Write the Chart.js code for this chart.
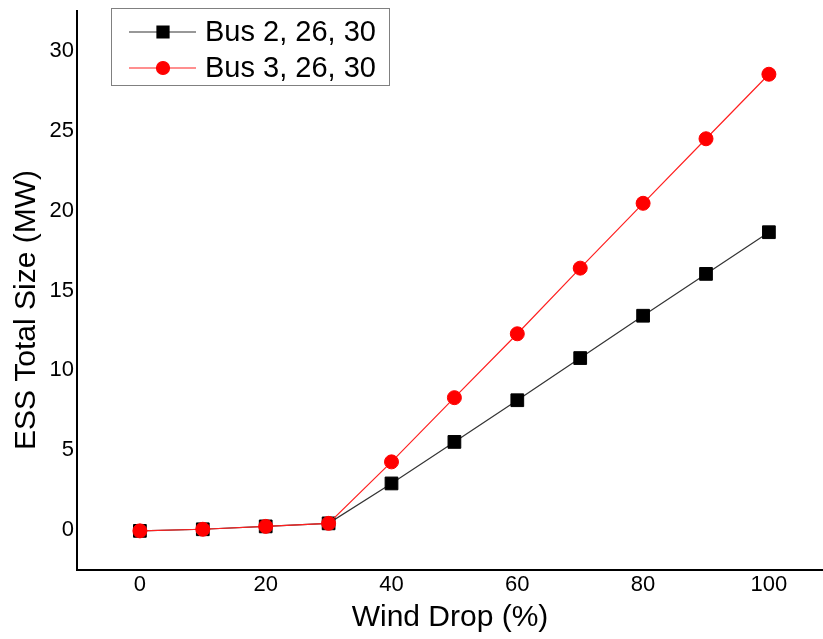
<!DOCTYPE html>
<html>
<head>
<meta charset="utf-8">
<title>ESS Total Size vs Wind Drop</title>
<script src="https://cdn.jsdelivr.net/npm/chart.js@4.4.1/dist/chart.umd.min.js"></script>
<style>
  html, body { margin: 0; padding: 0; background: #fff; }
  #wrap { width: 823px; height: 639px; position: relative; }
</style>
</head>
<body>
<div id="wrap"><canvas id="essChart"></canvas></div>
<script>
// Wind drop levels (%) and ESS total size (MW) for the two bus sets
var windDrop = [0, 10, 20, 30, 40, 50, 60, 70, 80, 90, 100];
var bus2Size = [-0.05, 0.05, 0.23, 0.42, 2.92, 5.52, 8.13, 10.77, 13.42, 16.04, 18.65];
var bus3Size = [-0.05, 0.05, 0.23, 0.42, 4.27, 8.29, 12.29, 16.40, 20.46, 24.50, 28.54];

var seriesNames = ['Bus 2, 26, 30', 'Bus 3, 26, 30'];
var xTicks = [0, 20, 40, 60, 80, 100];
var yTicks = [0, 5, 10, 15, 20, 25, 30];
var yTitle = 'ESS Total Size (MW)';

var FONT = "Arial, 'Liberation Sans', sans-serif";

function toPoints(ys) {
  return windDrop.map(function (x, i) { return { x: x, y: ys[i] }; });
}

// Rotated y-axis title, sitting a little below the middle of the axis
var yAxisTitle = {
  id: 'yAxisTitle',
  afterDraw: function (chart) {
    var ctx = chart.ctx;
    ctx.save();
    ctx.translate(27, 310);
    ctx.rotate(-Math.PI / 2);
    ctx.fillStyle = '#000';
    ctx.font = '30px ' + FONT;
    ctx.textAlign = 'center';
    ctx.textBaseline = 'middle';
    ctx.fillText(yTitle, 0, 0);
    ctx.restore();
  }
};

// Boxed legend in the upper-left of the plot: line sample + marker + label
var boxLegend = {
  id: 'boxLegend',
  afterDraw: function (chart) {
    var ctx = chart.ctx;
    var bx = 111, by = 8, bw = 278, bh = 77;
    ctx.save();
    ctx.fillStyle = '#fff';
    ctx.fillRect(bx, by, bw, bh);
    ctx.strokeStyle = '#808080';
    ctx.lineWidth = 1;
    ctx.strokeRect(bx + 0.5, by + 0.5, bw, bh);

    var rows = [32, 68];
    chart.data.datasets.forEach(function (ds, i) {
      var y = rows[i];
      ctx.strokeStyle = ds.borderColor;
      ctx.lineWidth = ds.borderWidth;
      ctx.beginPath();
      ctx.moveTo(129, y);
      ctx.lineTo(196, y);
      ctx.stroke();
      ctx.fillStyle = ds.pointBackgroundColor;
      ctx.strokeStyle = ds.pointBorderColor;
      Chart.helpers.drawPoint(ctx, {
        pointStyle: ds.pointStyle,
        radius: ds.pointRadius - 0.5,
        borderWidth: 1,
        rotation: 0
      }, 163, y);
      ctx.fillStyle = '#000';
      ctx.font = '29px ' + FONT;
      ctx.textBaseline = 'middle';
      ctx.textAlign = 'left';
      ctx.fillText(ds.label, 205, y + 1);
    });
    ctx.restore();
  }
};

new Chart(document.getElementById('essChart'), {
  type: 'line',
  data: {
    datasets: [
      {
        label: seriesNames[0],
        data: toPoints(bus2Size),
        borderColor: '#333333',
        borderWidth: 1.2,
        pointStyle: 'rect',
        pointRadius: 9,
        pointBackgroundColor: '#000',
        pointBorderColor: '#000',
        pointBorderWidth: 1,
        order: 1
      },
      {
        label: seriesNames[1],
        data: toPoints(bus3Size),
        borderColor: '#ff2020',
        borderWidth: 1.2,
        pointStyle: 'circle',
        pointRadius: 7,
        pointBackgroundColor: '#ff0000',
        pointBorderColor: '#ff0000',
        pointBorderWidth: 1,
        order: 0
      }
    ]
  },
  options: {
    responsive: true,
    maintainAspectRatio: false,
    animation: false,
    layout: {
      autoPadding: false,
      padding: { top: 11, right: 0, bottom: 1, left: 0 }
    },
    plugins: {
      legend: { display: false },
      tooltip: { enabled: false }
    },
    scales: {
      x: {
        type: 'linear',
        min: -10,
        max: 108.6,
        grid: { display: false, drawTicks: false },
        border: { display: true, color: '#000', width: 2 },
        afterBuildTicks: function (s) { s.ticks = xTicks.map(function (v) { return { value: v }; }); },
        afterFit: function (s) {
          s.height = 68;
          s.paddingLeft = 0;
          s.paddingRight = 0;
        },
        ticks: {
          color: '#000',
          padding: 2,
          maxRotation: 0,
          font: { family: FONT, size: 22 }
        },
        title: {
          display: true,
          text: 'Wind Drop (%)',
          color: '#000',
          padding: { top: 0, bottom: 2 },
          font: { family: FONT, size: 30 }
        }
      },
      y: {
        type: 'linear',
        min: -2.5,
        max: 32.5,
        grid: { display: false, drawTicks: false },
        border: { display: true, color: '#000', width: 2 },
        afterBuildTicks: function (s) { s.ticks = yTicks.map(function (v) { return { value: v }; }); },
        afterFit: function (s) {
          s.width = 77;
          s.paddingTop = 0;
          s.paddingBottom = 0;
        },
        ticks: {
          color: '#000',
          padding: 3,
          font: { family: FONT, size: 22 }
        }
      }
    }
  },
  plugins: [boxLegend, yAxisTitle]
});
</script>
</body>
</html>
